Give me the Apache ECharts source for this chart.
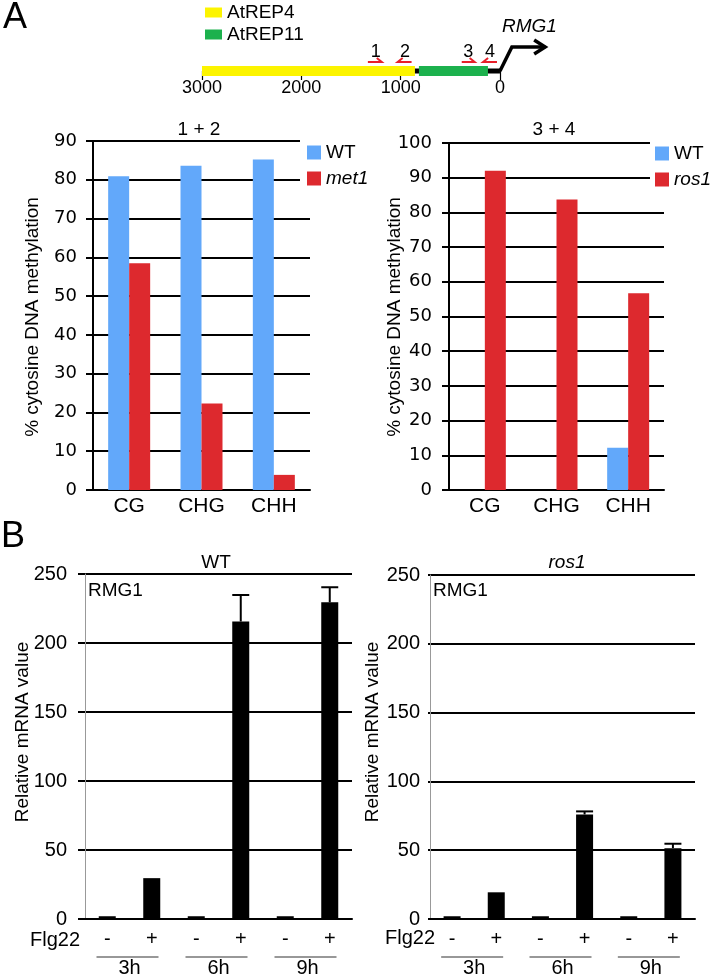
<!DOCTYPE html>
<html><head><meta charset="utf-8">
<script src="https://cdn.jsdelivr.net/npm/echarts@6/dist/echarts.min.js"></script>
<style>html,body{margin:0;padding:0;background:#fff}#c{width:715px;height:978px}</style>
</head><body><div id="c"></div>
<script>
// ---------------- data ----------------
// gene map (bp upstream of RMG1)
const mapTicks = [3000, 2000, 1000, 0];
const elementNames = ['AtREP4', 'AtREP11'];
const elementStart = [3000, 816];
const elementEnd = [856, 121];
const elementColors = ['#fcf400', '#1cb14d'];
const backbone = [880, 0];            // black line from ... to TSS
const geneArrow = [0, -120, -455];    // TSS, bend, arrow tip
const primerLabels = ['1', '2', '3', '4'];
const primerFrom = [1330, 890, 385, 30];
const primerTo = [1190, 1030, 255, 170];
const primerLabelPos = [1250, 955, 320, 100];

// Panel A methylation
const methCategories = ['CG', 'CHG', 'CHH'];
const met1WT = [80.9, 83.6, 85.2];
const met1Mut = [58.5, 22.3, 3.9];
const ros1WT = [0, 0, 12.2];
const ros1Mut = [92.0, 83.7, 56.7];

// Panel B mRNA
const flgCategories = ['-', '+', '-', '+', '-', '+'];
const timeGroups = ['3h', '6h', '9h'];
const wtMRNA = [2, 29.6, 2, 215.6, 2, 229.5];
const wtErr = [0, 0, 0, 19.2, 0, 10.9];
const ros1MRNA = [2, 19.4, 2, 76.0, 2, 51.5];
const ros1Err = [0, 0, 0, 2.2, 0, 3.2];

// ---------------- chart ----------------
const LIB = '"Liberation Sans", Arial, sans-serif';
const DJV = '"DejaVu Sans", Verdana, sans-serif';
const BLUE = '#62a8fa', RED = '#dd292e';
const chart = echarts.init(document.getElementById('c'), null, {renderer: 'canvas'});

function errData(vals, errs) {
  const out = [];
  vals.forEach((v, i) => { if (errs[i] > 0) out.push([i, v, v + errs[i]]); });
  return out;
}
function errRender(params, api) {
  const base = api.coord([api.value(0), api.value(1)]);
  const top = api.coord([api.value(0), api.value(2)]);
  const hw = 8.5;
  return {type: 'group', children: [
    {type: 'line', shape: {x1: top[0], y1: base[1], x2: top[0], y2: top[1]}, style: {stroke: '#000', lineWidth: 2}},
    {type: 'line', shape: {x1: top[0] - hw, y1: top[1], x2: top[0] + hw, y2: top[1]}, style: {stroke: '#000', lineWidth: 2}}
  ]};
}
function underlineRender(params, api) {
  const p = api.coord([api.value(0), 0]);
  return {type: 'line', shape: {x1: p[0] - 33, y1: p[1] + 38, x2: p[0] + 29, y2: p[1] + 38},
    style: {stroke: '#333', lineWidth: 1.2}};
}

function catAxisA(gi) {
  return {type: 'category', gridIndex: gi, data: methCategories,
    axisLine: {lineStyle: {color: '#000', width: 2}}, axisTick: {show: false},
    axisLabel: {color: '#000', fontFamily: LIB, fontSize: 21, margin: 6}};
}
function valAxisA(gi, max, margin) {
  return {type: 'value', gridIndex: gi, min: 0, max: max, interval: 10,
    axisLine: {show: true, lineStyle: {color: '#000', width: 2}},
    axisTick: {show: true, length: 7, lineStyle: {color: '#000', width: 2}},
    splitLine: {lineStyle: {color: '#000', width: 2}},
    axisLabel: {color: '#000', fontFamily: DJV, fontSize: 18, margin: margin}};
}
function catAxisB(gi) {
  return {type: 'category', gridIndex: gi, data: flgCategories,
    axisLine: {lineStyle: {color: '#000', width: 2}}, axisTick: {show: false},
    axisLabel: {color: '#000', fontFamily: LIB, fontSize: 20, margin: 10, interval: 0}};
}
function groupAxisB(gi) {
  return {type: 'category', gridIndex: gi, data: timeGroups, position: 'bottom', offset: 31,
    axisLine: {show: false}, axisTick: {show: false},
    axisLabel: {color: '#000', fontFamily: LIB, fontSize: 20, margin: 8, interval: 0}};
}
function valAxisB(gi, tickLen, margin) {
  return {type: 'value', gridIndex: gi, min: 0, max: 250, interval: 50,
    axisLine: {show: true, lineStyle: {color: '#999', width: 1}},
    axisTick: {show: true, length: tickLen, lineStyle: {color: '#000', width: 2}},
    splitLine: {lineStyle: {color: '#000', width: 2}},
    axisLabel: {color: '#000', fontFamily: LIB, fontSize: 20, margin: margin}};
}
function txt(text, x, y, opts) {
  opts = opts || {};
  return {type: 'text', x: x, y: y, rotation: opts.rot || 0, z: 10,
    style: {text: text, fill: '#000', align: opts.align || 'center', verticalAlign: 'middle',
      font: (opts.style || '') + ' ' + (opts.size || 19) + 'px ' + (opts.family || LIB)}};
}
const legendRich = {i: {fontStyle: 'italic', fontFamily: LIB, fontSize: 19, color: '#000'}};
function legendFmt(name) { return name === 'WT' ? name : '{i|' + name + '}'; }

const option = {
  animation: false,
  backgroundColor: '#fff',
  grid: [
    {left: 202, top: 47, width: 397.3, height: 24, outerBoundsMode: 'none'},
    {left: 93, top: 141, width: 217, height: 349, outerBoundsMode: 'none'},
    {left: 449, top: 143, width: 215, height: 347, outerBoundsMode: 'none'},
    {left: 85, top: 574, width: 267, height: 345, outerBoundsMode: 'none'},
    {left: 430, top: 575, width: 265, height: 344, outerBoundsMode: 'none'}
  ],
  legend: [
    {data: elementNames, orient: 'vertical', left: 205, top: 3, padding: 0, itemWidth: 17, itemHeight: 10,
      itemGap: 3, icon: 'rect', selectedMode: false,
      textStyle: {color: '#000', fontFamily: LIB, fontSize: 19}},
    {data: ['WT', 'met1'], orient: 'vertical', left: 300, top: 140, padding: [3, 4, 4, 7], backgroundColor: '#fff',
      itemWidth: 14, itemHeight: 14, itemGap: 7, icon: 'rect', selectedMode: false, formatter: legendFmt,
      textStyle: {color: '#000', fontFamily: LIB, fontSize: 19, rich: legendRich}},
    {data: ['WT', 'ros1'], orient: 'vertical', left: 650, top: 141, padding: [3, 4, 4, 5], backgroundColor: '#fff',
      itemWidth: 14, itemHeight: 14, itemGap: 7, icon: 'rect', selectedMode: false, formatter: legendFmt,
      textStyle: {color: '#000', fontFamily: LIB, fontSize: 19, rich: legendRich}}
  ],
  xAxis: [
    {type: 'value', gridIndex: 0, inverse: true, min: -1000, max: 3000, interval: 1000,
      axisLine: {show: false}, splitLine: {show: false},
      axisTick: {show: true, length: 9, customValues: mapTicks, lineStyle: {color: '#000', width: 1.2}},
      axisLabel: {color: '#000', fontFamily: LIB, fontSize: 18, margin: 8, showMinLabel: true, showMaxLabel: true,
        formatter: v => (v < 0 ? '' : String(v))}},
    catAxisA(1), catAxisA(2),
    catAxisB(3), groupAxisB(3),
    catAxisB(4), groupAxisB(4)
  ],
  yAxis: [
    {type: 'value', gridIndex: 0, min: 0, max: 1, show: false},
    valAxisA(1, 90, 16), valAxisA(2, 100, 17),
    valAxisB(3, 7, 18), valAxisB(4, 2, 10)
  ],
  series: [
    // gene map
    {type: 'custom', name: 'backbone', xAxisIndex: 0, yAxisIndex: 0, z: 1, clip: false,
      data: [[backbone[0], backbone[1], 0]], encode: {x: [0, 1], y: 2},
      renderItem: function (params, api) {
        const a = api.coord([api.value(0), 0]);
        const b = api.coord([api.value(1), 0]);
        const bend = api.coord([geneArrow[1], 1]);
        const tip = api.coord([geneArrow[2], 1]);
        const y = a[1];
        const kids = [
          {type: 'line', shape: {x1: a[0], y1: y, x2: b[0], y2: y}, style: {stroke: '#000', lineWidth: 5}},
          {type: 'polyline', shape: {points: [[b[0], y], [bend[0], bend[1]], [tip[0], tip[1]]]},
            style: {stroke: '#000', lineWidth: 3.5, fill: null}},
          {type: 'polyline', shape: {points: [[tip[0] - 11, tip[1] - 7], [tip[0], tip[1]], [tip[0] - 11, tip[1] + 7]]},
            style: {stroke: '#000', lineWidth: 3.5, fill: null}}
        ];
        primerLabels.forEach((lab, i) => {
          const f = api.coord([primerFrom[i], 0]);
          const t = api.coord([primerTo[i], 0]);
          const l = api.coord([primerLabelPos[i], 0]);
          const py = y - 9;
          const dir = t[0] > f[0] ? 1 : -1;
          kids.push({type: 'polyline', shape: {points: [[f[0], py], [t[0], py], [t[0] - dir * 5, py - 4]]},
            style: {stroke: '#e8202a', lineWidth: 2, fill: null}});
          kids.push({type: 'text', x: l[0], y: y - 19,
            style: {text: lab, fill: '#000', align: 'center', verticalAlign: 'middle', font: '18px ' + LIB}});
        });
        return {type: 'group', children: kids};
      }},
    ...elementNames.map((nm, i) => ({
      type: 'custom', name: nm, xAxisIndex: 0, yAxisIndex: 0, z: 2, clip: false,
      itemStyle: {color: elementColors[i]},
      data: [[elementStart[i], elementEnd[i], 0]], encode: {x: [0, 1], y: 2},
      renderItem: function (params, api) {
        const a = api.coord([api.value(0), 0]);
        const b = api.coord([api.value(1), 0]);
        return {type: 'rect', shape: {x: a[0], y: a[1] - 5, width: b[0] - a[0], height: 10},
          style: {fill: elementColors[i]}};
      }
    })),
    // Panel A
    {type: 'bar', name: 'WT', xAxisIndex: 1, yAxisIndex: 1, data: met1WT, barWidth: 21, barGap: '0%',
      itemStyle: {color: BLUE}},
    {type: 'bar', name: 'met1', xAxisIndex: 1, yAxisIndex: 1, data: met1Mut, barWidth: 21, barGap: '0%',
      itemStyle: {color: RED}},
    {type: 'bar', name: 'WT', xAxisIndex: 2, yAxisIndex: 2, data: ros1WT, barWidth: 21, barGap: '0%',
      itemStyle: {color: BLUE}},
    {type: 'bar', name: 'ros1', xAxisIndex: 2, yAxisIndex: 2, data: ros1Mut, barWidth: 21, barGap: '0%',
      itemStyle: {color: RED}},
    // Panel B
    {type: 'bar', name: 'WT mRNA', xAxisIndex: 3, yAxisIndex: 3, data: wtMRNA, barWidth: 17,
      itemStyle: {color: '#000'}},
    {type: 'custom', name: 'WT err', xAxisIndex: 3, yAxisIndex: 3, data: errData(wtMRNA, wtErr),
      encode: {x: 0, y: [1, 2]}, renderItem: errRender, z: 3},
    {type: 'custom', name: 'WT groups', xAxisIndex: 4, yAxisIndex: 3, clip: false,
      data: timeGroups.map((g, i) => [i, 0]), encode: {x: 0, y: 1}, renderItem: underlineRender},
    {type: 'bar', name: 'ros1 mRNA', xAxisIndex: 5, yAxisIndex: 4, data: ros1MRNA, barWidth: 17,
      itemStyle: {color: '#000'}},
    {type: 'custom', name: 'ros1 err', xAxisIndex: 5, yAxisIndex: 4, data: errData(ros1MRNA, ros1Err),
      encode: {x: 0, y: [1, 2]}, renderItem: errRender, z: 3},
    {type: 'custom', name: 'ros1 groups', xAxisIndex: 6, yAxisIndex: 4, clip: false,
      data: timeGroups.map((g, i) => [i, 0]), encode: {x: 0, y: 1}, renderItem: underlineRender}
  ],
  graphic: [
    txt('A', 15, 18, {size: 36}),
    txt('B', 13, 537, {size: 36}),
    txt('RMG1', 502, 27, {align: 'left', style: 'italic', size: 19}),
    txt('1 + 2', 199, 130, {size: 19}),
    txt('3 + 4', 554, 130, {size: 19}),
    txt('% cytosine DNA methylation', 33, 317, {rot: Math.PI / 2, size: 19}),
    txt('% cytosine DNA methylation', 395, 317, {rot: Math.PI / 2, size: 19}),
    txt('WT', 216, 563, {size: 19}),
    txt('ros1', 567, 563, {size: 19, style: 'italic'}),
    txt('RMG1', 88, 591, {align: 'left', size: 19}),
    txt('RMG1', 433, 591, {align: 'left', size: 19}),
    txt('Relative mRNA value', 23, 732, {rot: Math.PI / 2, size: 19}),
    txt('Relative mRNA value', 373, 732, {rot: Math.PI / 2, size: 19}),
    txt('Flg22', 80, 940, {align: 'right', size: 20}),
    txt('Flg22', 435, 938, {align: 'right', size: 20})
  ]
};
chart.setOption(option);
</script>
</body></html>
